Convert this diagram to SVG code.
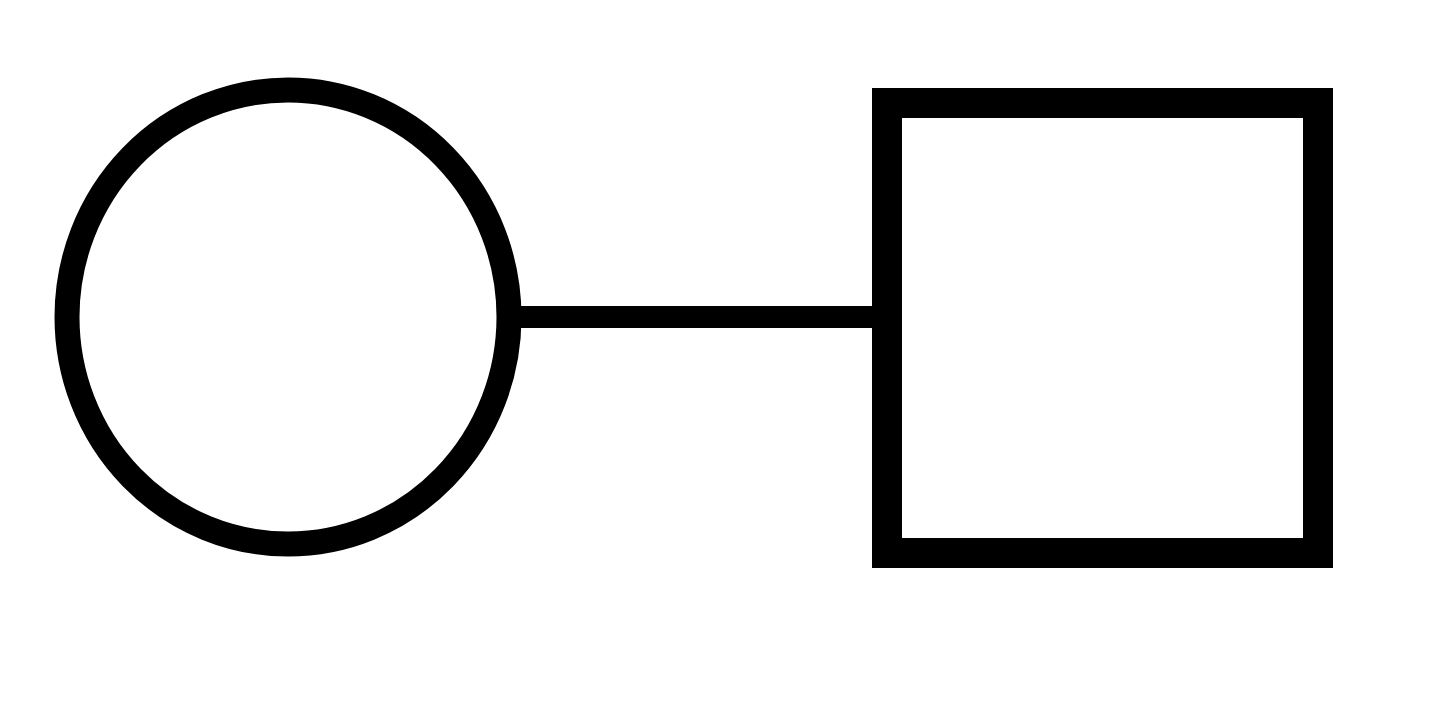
<svg xmlns="http://www.w3.org/2000/svg" width="1440" height="728" viewBox="0 0 1440 728">
<style>
.shape{fill:#fff;stroke:#000}
.conn{stroke:#000;stroke-width:22;fill:none}
</style>
<rect width="1440" height="728" fill="#fff"/>
<g id="connectors">
<line class="conn" x1="505" y1="317" x2="890" y2="317"/>
</g>
<g id="node-circle">
<ellipse class="shape" cx="288" cy="317" rx="221" ry="227" stroke-width="25"/>
</g>
<g id="node-square">
<rect class="shape" x="887" y="103" width="431" height="450" stroke-width="30"/>
</g>
</svg>
